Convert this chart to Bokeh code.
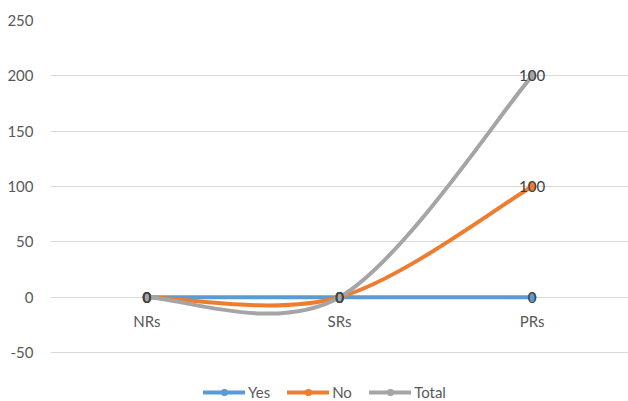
from bokeh.plotting import figure
from bokeh.models import Range1d, Legend, LegendItem, ColumnDataSource, FixedTicker
from bokeh.core.properties import value
from bokeh.embed import file_html
from bokeh.resources import INLINE

categories = ["NRs", "SRs", "PRs"]
series_names = ["Yes", "No", "Total"]
yes_vals = [0, 0, 0]
no_vals = [0, 0, 100]
total_vals = [0, 0, 100]
colors = ["#5B9BD5", "#ED7D31", "#A5A5A5"]
y_ticks = [-50, 0, 50, 100, 150, 200, 250]

FONT = value("Lato")

p = figure(width=628, height=401, output_backend="svg", toolbar_location=None,
           x_range=Range1d(0, 3), y_range=Range1d(-94.2, 250),
           min_border_left=50, min_border_right=0, min_border_top=20, min_border_bottom=0)
p.outline_line_color = None
p.xaxis.visible = False
p.xgrid.visible = False
p.ygrid.grid_line_color = "#D9D9D9"
p.ygrid.grid_line_width = 1
yax = p.yaxis[0]
yax.ticker = FixedTicker(ticks=y_ticks)
yax.major_label_overrides = {t: str(t) for t in y_ticks}
yax.axis_line_color = None
yax.major_tick_line_color = None
yax.minor_tick_line_color = None
yax.major_tick_out = 0
yax.minor_tick_out = 0
yax.major_label_text_font = "Lato"
yax.major_label_text_font_size = "15px"
yax.major_label_text_color = "#595959"
yax.major_label_standoff = 17

xs = [i + 0.5 for i in range(len(categories))]

# stacked series positions
stack = [0.0] * len(categories)
stacked = []
for vals in (yes_vals, no_vals, total_vals):
    stack = [s + v for s, v in zip(stack, vals)]
    stacked.append(list(stack))
raw = [yes_vals, no_vals, total_vals]

legend_items = []
label_src = {"x": [], "y": [], "t": []}
for name, ys, rv, col in zip(series_names, stacked, raw, colors):
    n = len(xs)
    seg = {k: [] for k in ("x0", "y0", "x1", "y1", "cx0", "cy0", "cx1", "cy1")}
    for i in range(n - 1):
        px, py = xs[i], ys[i]
        qx, qy = xs[i + 1], ys[i + 1]
        ax_, ay_ = (xs[i - 1], ys[i - 1]) if i > 0 else (px, py)
        bx_, by_ = (xs[i + 2], ys[i + 2]) if i + 2 < n else (qx, qy)
        seg["x0"].append(px); seg["y0"].append(py)
        seg["x1"].append(qx); seg["y1"].append(qy)
        seg["cx0"].append(px + (qx - ax_) / 6); seg["cy0"].append(py + (qy - ay_) / 6)
        seg["cx1"].append(qx - (bx_ - px) / 6); seg["cy1"].append(qy - (by_ - py) / 6)
    br = p.bezier(x0="x0", y0="y0", x1="x1", y1="y1", cx0="cx0", cy0="cy0", cx1="cx1", cy1="cy1",
                  source=ColumnDataSource(seg), line_color=col, line_width=4, line_cap="round")
    mr = p.scatter(x=xs, y=ys, size=8, fill_color=col, line_color=col, marker="circle")
    legend_items.append(LegendItem(label=name, renderers=[br, mr], index=0))
    for x, y, v in zip(xs, ys, rv):
        label_src["x"].append(x); label_src["y"].append(y); label_src["t"].append(str(v))

p.text(x="x", y="y", text="t", source=ColumnDataSource(label_src), text_font=FONT,
       text_font_size="15px", text_color="#404040", text_align="center", text_baseline="middle")

p.text(x=xs, y=[0] * len(xs), text=categories, text_font=FONT, text_font_size="15px",
       text_color="#595959", text_align="center", text_baseline="top", y_offset=15)

legend = Legend(items=legend_items, orientation="horizontal", location=(153, 0),
                label_text_font="Lato", label_text_font_size="15px", label_text_color="#595959",
                glyph_width=42, glyph_height=16, label_standoff=3, spacing=17, padding=0,
                margin=0, border_line_color=None, background_fill_alpha=0)
p.add_layout(legend, "center")

open("out.html", "w").write(file_html(p, INLINE))
